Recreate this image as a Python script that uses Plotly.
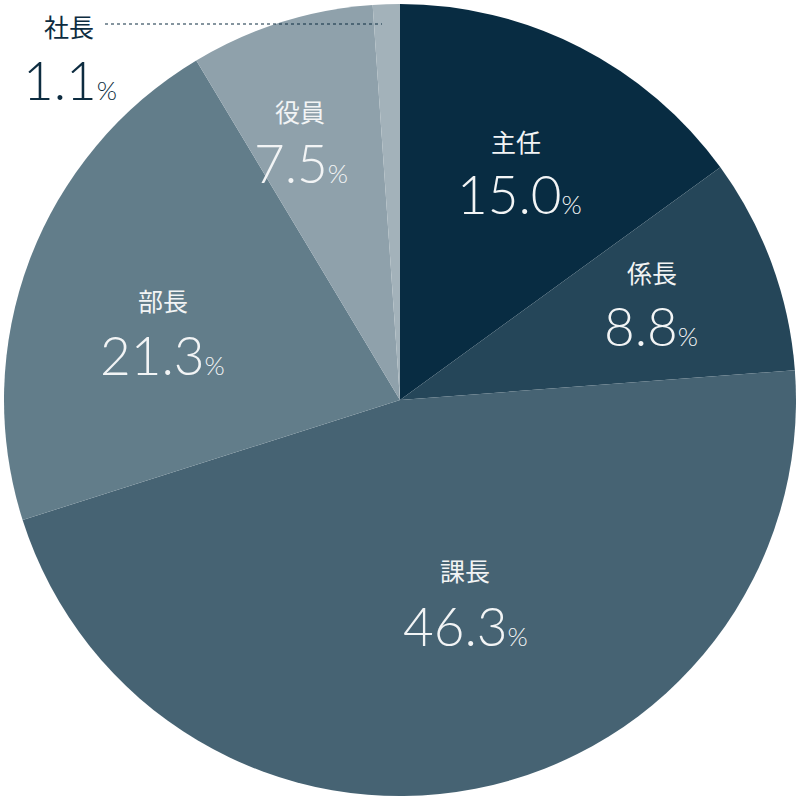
import plotly.graph_objects as go

labels = ['主任', '係長', '課長', '部長', '役員', '社長']
values = [15.0, 8.8, 46.3, 21.3, 7.5, 1.1]
colors = ['#082c42', '#254659', '#466373', '#627d8a', '#8fa1ab', '#a3b2ba']

# label centres in pixels (label line, number line)
label_pos = {
    '主任': ((516, 141), (519, 193)),
    '係長': ((652, 272), (651, 325)),
    '課長': ((465, 570), (465, 625)),
    '部長': ((163, 300), (162, 355)),
    '役員': ((300, 111), (301, 163)),
    '社長': ((69, 26), (70, 79)),
}

M = 4
SIZE = 800


def px(x, y):
    span = SIZE - 2 * M
    return (x - M) / span, 1 - (y - M) / span


fig = go.Figure(go.Pie(
    labels=labels,
    values=values,
    sort=False,
    direction='clockwise',
    rotation=0,
    textinfo='none',
    hoverinfo='label+percent',
    marker=dict(colors=colors, line=dict(width=0)),
    showlegend=False,
))

font_family = 'Lato, Noto Sans CJK JP, sans-serif'
for name, val in zip(labels, values):
    (lx, ly), (nx, ny) = label_pos[name]
    color = '#0d2c40' if name == '社長' else '#f2f4f5'
    ax, ay = px(lx, ly)
    fig.add_annotation(x=ax, y=ay, xref='paper', yref='paper', text=name,
                       showarrow=False, xanchor='center', yanchor='middle',
                       font=dict(family='Noto Sans CJK JP, sans-serif', size=25, color=color))
    bx, by = px(nx, ny)
    fig.add_annotation(x=bx, y=by, xref='paper', yref='paper',
                       text=f"{val:.1f}<span style='font-size:26px'>%</span>",
                       showarrow=False, xanchor='center', yanchor='middle',
                       font=dict(family=font_family, size=53, color=color, weight=300))

x0, y0 = px(105, 24)
x1, _ = px(382, 24)
fig.add_shape(type='line', xref='paper', yref='paper', x0=x0, x1=x1, y0=y0, y1=y0,
              line=dict(color='#0d2c40', width=1.2, dash='dot'))

fig.update_layout(
    width=SIZE, height=SIZE,
    margin=dict(l=M, r=M, t=M, b=M),
    paper_bgcolor='white',
    plot_bgcolor='white',
)

fig.write_html("out.html", config={'displayModeBar': False},
               post_script="document.body.style.margin='0';document.body.style.overflow='hidden';")
